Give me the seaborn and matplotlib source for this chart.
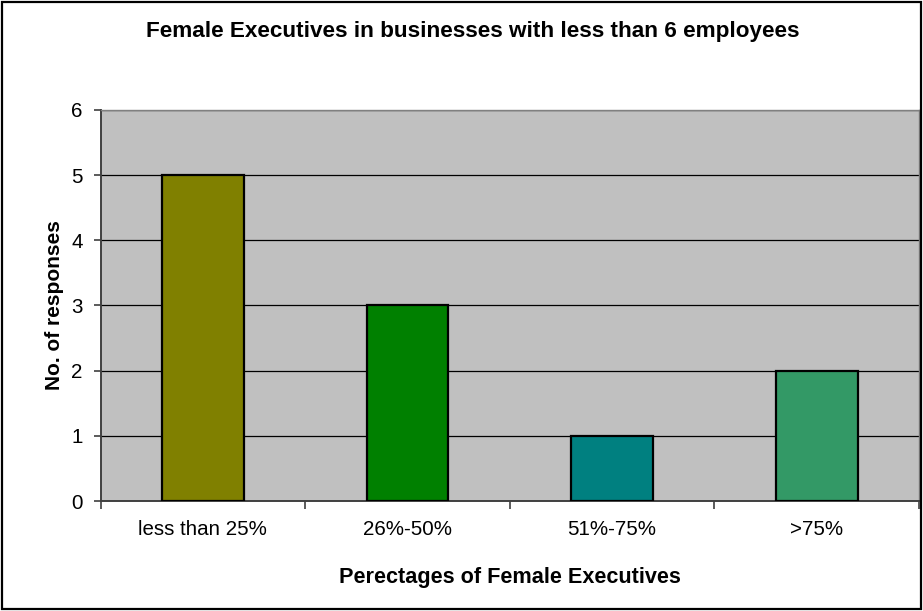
import matplotlib
matplotlib.use("Agg")
import matplotlib.pyplot as plt
from matplotlib.patches import Rectangle
from matplotlib.ticker import FixedLocator
import seaborn as sns
import pandas as pd

categories = ["less than 25%", "26%-50%", "51%-75%", ">75%"]
responses = [5, 3, 1, 2]
bar_colors = ["#808000", "#008000", "#008080", "#339966"]
y_ticks = [0, 1, 2, 3, 4, 5, 6]

sns.set_theme(style="white")
plt.rcParams["font.family"] = ["Liberation Sans", "DejaVu Sans"]
plt.rcParams["text.color"] = "black"
plt.rcParams["axes.labelcolor"] = "black"
plt.rcParams["xtick.labelcolor"] = "black"
plt.rcParams["ytick.labelcolor"] = "black"

df = pd.DataFrame({"category": categories, "responses": responses})

fig = plt.figure(figsize=(9.23, 6.11), dpi=100)
ax = fig.add_axes([0.109, 0.180, 0.8867, 0.640])
ax.set_facecolor("#C0C0C0")

sns.barplot(data=df, x="category", y="responses", hue="category",
            palette=bar_colors, saturation=1, width=0.4, edgecolor="black",
            linewidth=1.6, legend=False, ax=ax, zorder=3)

ax.set_ylim(0, 6)
ax.set_xlim(-0.5, len(categories) - 0.5)
ax.set_yticks(y_ticks)
ax.yaxis.grid(True, color="black", linewidth=0.9, zorder=1)
ax.set_axisbelow(True)

ax.tick_params(axis="y", which="major", direction="out", length=5, width=1.2,
               color="#404040", labelcolor="black", labelsize=14.8, pad=8, left=True)
ax.tick_params(axis="x", which="major", length=0, labelcolor="black", labelsize=14.8, pad=14)
ax.xaxis.set_minor_locator(FixedLocator([i - 0.5 for i in range(len(categories) + 1)]))
ax.tick_params(axis="x", which="minor", direction="out", length=6, width=1.2,
               color="#404040", bottom=True)

for side in ("left", "bottom"):
    ax.spines[side].set_color("#404040")
    ax.spines[side].set_linewidth(1.4)
for side in ("top", "right"):
    ax.spines[side].set_color("#808080")
    ax.spines[side].set_linewidth(1.0)

ax.set_xlabel("Perectages of Female Executives", fontsize=15.6, fontweight="bold",
              labelpad=20, color="black")
ax.set_ylabel("No. of responses", fontsize=15, fontweight="bold", labelpad=5, color="black")

fig.text(0.512, 0.948, "Female Executives in businesses with less than 6 employees",
         ha="center", va="center", fontsize=16.2, fontweight="bold", color="black")

fig.add_artist(Rectangle((0.002, 0.003), 0.996, 0.994, transform=fig.transFigure,
                         fill=False, edgecolor="black", linewidth=1.6))

fig.savefig("out.png", dpi=100, facecolor="white")
